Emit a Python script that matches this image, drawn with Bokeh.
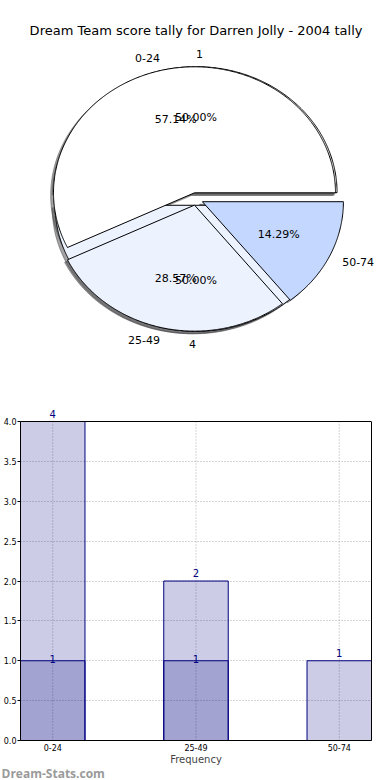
import numpy as np
from bokeh.plotting import figure
from bokeh.models import (Range1d, FixedTicker, PrintfTickFormatter, Span, Title,
                          LinearAxis, ColumnDataSource)
from bokeh.embed import file_html
from bokeh.resources import INLINE
from bokeh.core.properties import value

# ---------------- data ----------------
title_text = "Dream Team score tally for Darren Jolly - 2004 tally"
categories = ["0-24", "25-49", "50-74"]
tally = [4, 2, 1]
overlay = [1, 1, 0]
pie_colors = ["#FFFFFF", "#EDF2FF", "#C4D8FF"]
inner_labels = ["1", "4"]
inner_values = [1, 1]
inner_colors = ["#FFFFFF", "#EDF2FF"]
y_ticks = [0.0, 0.5, 1.0, 1.5, 2.0, 2.5, 3.0, 3.5, 4.0]
x_label = "Frequency"
watermark = "Dream-Stats.com"

EXPLODE = 0.05
SHADOW = 0.02
BW = 0.45
FONT = "DejaVu Sans"
NAVY = "#000080"

# ---------------- pie ----------------
pie = figure(width=390, height=404, x_range=Range1d(-1.387, 1.379),
             y_range=Range1d(-1.631, 1.575), output_backend="svg",
             toolbar_location=None, min_border=0)
pie.axis.visible = False
pie.grid.visible = False
pie.outline_line_color = None


def spans(values):
    total = float(sum(values))
    out, start = [], 0.0
    for v in values:
        end = start + 360.0 * v / total
        out.append((start, end))
        start = end
    return out


def wedge(t1, t2, ox, oy):
    a = np.radians(np.linspace(t1, t2, int(abs(t2 - t1)) * 2 + 2))
    xs = np.concatenate([[ox], ox + np.cos(a), [ox]])
    ys = np.concatenate([[oy], oy + np.sin(a), [oy]])
    return list(xs), list(ys)


def darker(h):
    r, g, b = int(h[1:3], 16), int(h[3:5], 16), int(h[5:7], 16)
    return "#%02x%02x%02x" % (int(0.3 * r), int(0.3 * g), int(0.3 * b))


def build(values, labels, colors):
    w_xs, w_ys, s_xs, s_ys, s_col = [], [], [], [], []
    lab = dict(x=[], y=[], t=[], a=[])
    pct = dict(x=[], y=[], t=[])
    total = float(sum(values))
    for (t1, t2), v, l, c in zip(spans(values), values, labels, colors):
        m = np.radians((t1 + t2) / 2)
        ox, oy = EXPLODE * np.cos(m), EXPLODE * np.sin(m)
        xs, ys = wedge(t1, t2, ox, oy)
        w_xs.append(xs); w_ys.append(ys)
        s_xs.append([x - SHADOW for x in xs]); s_ys.append([y - SHADOW for y in ys])
        s_col.append(darker(c))
        lx = ox + 1.1 * np.cos(m)
        lab["x"].append(lx); lab["y"].append(oy + 1.1 * np.sin(m))
        lab["t"].append(l); lab["a"].append("left" if lx - ox > 0 else "right")
        pct["x"].append(ox + 0.6 * np.cos(m)); pct["y"].append(oy + 0.6 * np.sin(m))
        pct["t"].append("%.2f%%" % (100.0 * v / total))
    return (dict(xs=w_xs, ys=w_ys, c=list(colors)), dict(xs=s_xs, ys=s_ys, c=s_col), lab, pct)


outer = build(tally, categories, pie_colors)
inner = build(inner_values, inner_labels, inner_colors)

for grp in (inner, outer):
    pie.patches(xs="xs", ys="ys", source=ColumnDataSource(grp[1]), fill_color="c",
                fill_alpha=0.5, line_color="c", line_alpha=0.5, line_width=1)
for grp in (inner, outer):
    pie.patches(xs="xs", ys="ys", source=ColumnDataSource(grp[0]), fill_color="c",
                line_color="black", line_width=1)
for grp in (outer, inner):
    pie.text(x="x", y="y", text="t", text_align="a", text_baseline="middle",
             source=ColumnDataSource(grp[2]), text_font=value(FONT),
             text_font_size="11px", text_color="black")
    pie.text(x="x", y="y", text="t", text_align="center", text_baseline="middle",
             source=ColumnDataSource(grp[3]), text_font=value(FONT),
             text_font_size="11px", text_color="black")

pie.text(x=[0.0], y=[1.337], text=[title_text], text_align="center",
         text_baseline="middle", text_font=value(FONT), text_font_size="13px",
         text_color="black")

# ---------------- bars ----------------
xs = list(range(len(categories)))
y_lo, y_hi = y_ticks[0], y_ticks[-1]
bar = figure(frame_width=351, frame_height=336,
             x_range=Range1d(-BW / 2, len(categories) - 1 + BW / 2),
             y_range=Range1d(y_lo, y_hi + 0.2132), output_backend="svg",
             toolbar_location=None, min_border_left=19, min_border_right=20,
             min_border_top=0, min_border_bottom=0)
bar.outline_line_color = None

# dotted vertical grid from 0 to 4 only
bar.segment(x0=xs, y0=[y_lo] * len(xs), x1=xs, y1=[y_hi] * len(xs),
            line_color="#aaaaaa", line_dash="1 2", line_width=1, level="underlay")

bar.vbar(x=xs, top=tally, width=BW, fill_color=NAVY, fill_alpha=0.2,
         line_color=NAVY, line_width=1)
ov_x = [x for x, v in zip(xs, overlay) if v > 0]
ov_v = [v for v in overlay if v > 0]
bar.vbar(x=ov_x, top=ov_v, width=BW, fill_color=NAVY, fill_alpha=0.2,
         line_color=NAVY, line_width=1)

bar.text(x=xs, y=tally, text=[str(v) for v in tally], text_align="center",
         text_baseline="bottom", y_offset=-4, text_color=NAVY,
         text_font=value(FONT), text_font_size="10px")
bar.text(x=ov_x, y=ov_v, text=[str(v) for v in ov_v], text_align="center",
         text_baseline="bottom", y_offset=2, text_color=NAVY,
         text_font=value(FONT), text_font_size="10px")

# top frame line
bar.add_layout(Span(location=y_hi, dimension="width", line_color="black", line_width=1))

bar.xaxis.ticker = FixedTicker(ticks=xs)
bar.xaxis.major_label_overrides = {x: c for x, c in zip(xs, categories)}
bar.yaxis.ticker = FixedTicker(ticks=y_ticks)
bar.yaxis.formatter = PrintfTickFormatter(format="%.1f")
bar.yaxis.bounds = (y_lo, y_hi)
bar.xaxis.axis_label = x_label
bar.xaxis.axis_label_text_font = FONT
bar.xaxis.axis_label_text_font_style = "normal"
bar.xaxis.axis_label_text_font_size = "10px"
bar.xaxis.axis_label_standoff = 0
bar.axis.major_label_text_font = FONT
bar.axis.major_label_text_font_size = "8px"
bar.axis.major_label_text_color = "black"
bar.axis.minor_tick_line_color = None
bar.axis.axis_line_color = "black"
bar.yaxis.major_tick_out = 3
bar.yaxis.major_tick_in = 0
bar.yaxis.major_label_standoff = 1
bar.xaxis.major_tick_out = 0
bar.xaxis.major_tick_in = 0
bar.xaxis.major_label_standoff = 3
bar.ygrid.ticker = FixedTicker(ticks=y_ticks)
bar.ygrid.grid_line_color = "#aaaaaa"
bar.ygrid.grid_line_dash = "1 2"
bar.ygrid.grid_line_width = 1
bar.xgrid.visible = False

# right frame line (added last so the y-axis settings above do not touch it)
right_axis = LinearAxis(bounds=(y_lo, y_hi), ticker=FixedTicker(ticks=[]),
                        major_tick_in=0, major_tick_out=0, minor_tick_line_color=None,
                        axis_line_color="black", major_label_standoff=0,
                        major_label_text_font_size="1px")
bar.add_layout(right_axis, "right")

bar.add_layout(Title(text=watermark, align="left", offset=-19, standoff=-6,
                     vertical_align="top", text_baseline="top",
                     text_font="Open Sans", text_font_style="bold", text_font_size="12px",
                     text_color="#9a9a9a"), "below")

open("out.html", "w").write(file_html([pie, bar], INLINE))
